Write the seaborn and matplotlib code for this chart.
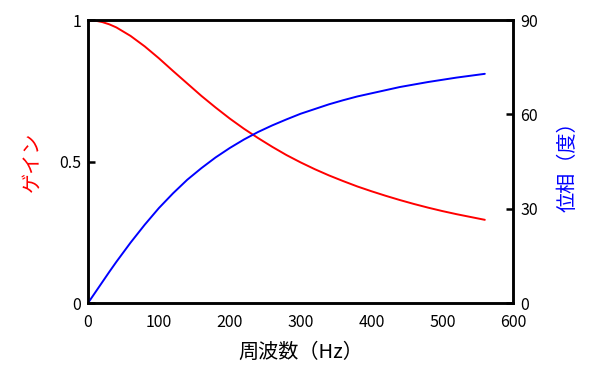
import matplotlib
matplotlib.use("Agg")
import matplotlib.pyplot as plt
import seaborn as sns

# 周波数 (Hz)
freq = [0, 10, 20, 30, 40, 60, 80, 100, 120, 140, 160, 180, 200, 220, 240, 260, 280,
        300, 320, 340, 360, 380, 400, 420, 440, 460, 480, 500, 520, 540, 560]
# ゲイン
gain = [1.0, 0.998, 0.993, 0.985, 0.974, 0.944, 0.907, 0.865, 0.820, 0.776, 0.732, 0.691,
        0.652, 0.616, 0.583, 0.552, 0.523, 0.497, 0.473, 0.451, 0.431, 0.412,
        0.395, 0.379, 0.364, 0.350, 0.337, 0.325, 0.314, 0.304, 0.294]
# 位相 (度)
phase = [0.0, 3.3, 6.6, 9.9, 13.1, 19.2, 24.9, 30.2, 34.9, 39.2, 42.9, 46.3,
         49.3, 52.0, 54.4, 56.5, 58.4, 60.2, 61.7, 63.2, 64.5, 65.7,
         66.7, 67.7, 68.7, 69.5, 70.3, 71.0, 71.7, 72.3, 72.9]

x_ticks = [0, 100, 200, 300, 400, 500, 600]
gain_ticks = [0, 0.5, 1]
gain_labels = ["0", "0.5", "1"]
phase_ticks = [0, 30, 60, 90]

sns.set_style("white")
plt.rcParams['font.family'] = ['Noto Sans CJK JP', 'DejaVu Sans']

fig = plt.figure(figsize=(5.96, 3.86), dpi=100)
ax = fig.add_axes([0.1477, 0.215, 0.7133, 0.733])
ax2 = ax.twinx()

sns.lineplot(x=freq, y=gain, ax=ax, color="#ff0000", linewidth=1.4)
sns.lineplot(x=freq, y=phase, ax=ax2, color="#0000ff", linewidth=1.4)

ax.set_xlim(0, 600)
ax.set_ylim(0, 1)
ax2.set_ylim(0, 90)
ax.set_xticks(x_ticks)
ax.set_yticks(gain_ticks)
ax.set_yticklabels(gain_labels)
ax2.set_yticks(phase_ticks)

for a in (ax, ax2):
    for s in a.spines.values():
        s.set_linewidth(1.8)
        s.set_color("black")
    a.tick_params(direction="in", length=5, width=1.8, labelsize=11.5,
                  colors="black", pad=5)
ax.tick_params(axis="x", pad=8)

ax.set_xlabel("周波数（Hz）", fontsize=14.5, color="black", labelpad=8)
ax.set_ylabel("ゲイン", fontsize=14.5, color="#ff0000", labelpad=12)
ax2.set_ylabel("位相（度）", fontsize=14.5, color="#0000ff", labelpad=14)

fig.savefig("out.png", dpi=100)
